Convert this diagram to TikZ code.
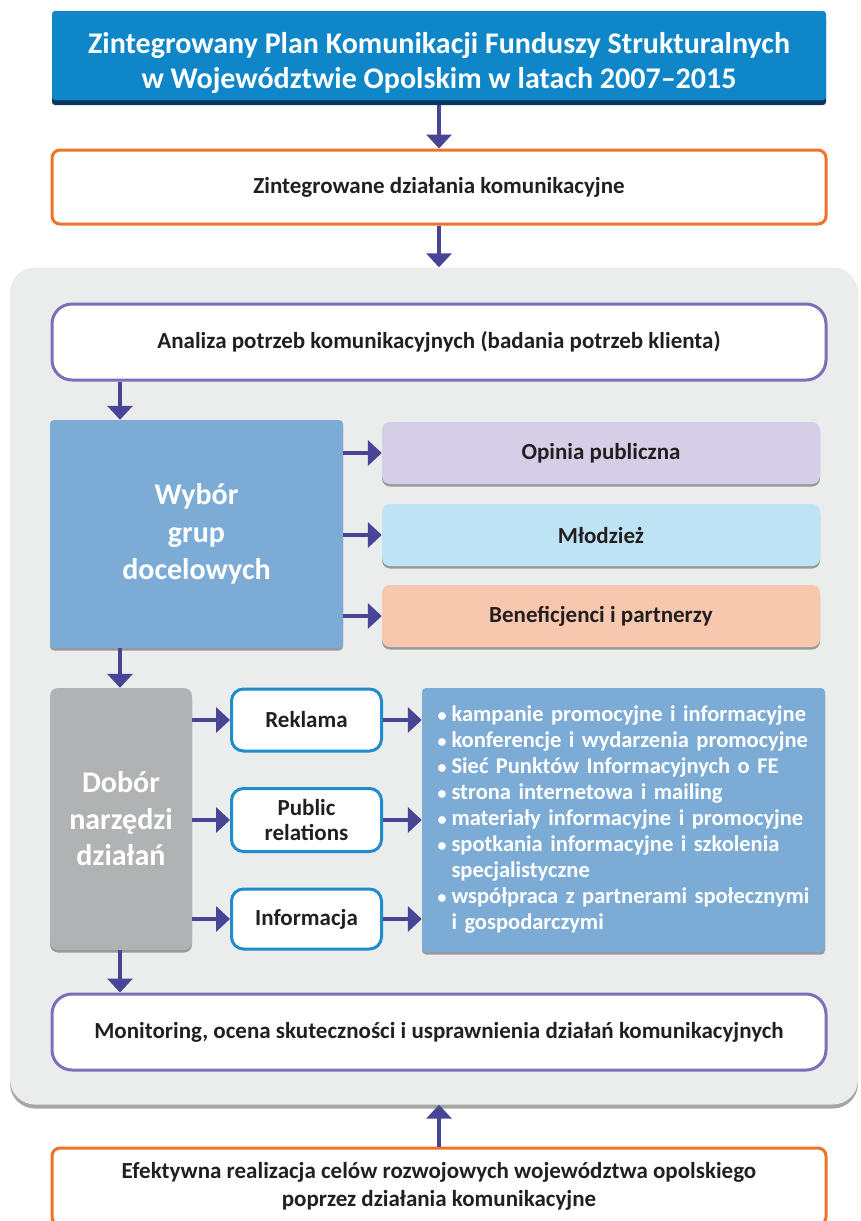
\documentclass[tikz,border=0pt]{standalone}
\usepackage{fontspec}
\setmainfont{Carlito}
\usepackage{tikz}
\usetikzlibrary{arrows.meta,positioning,shadows}
\definecolor{planblue}{RGB}{14,134,200}
\definecolor{planshadow}{RGB}{10,55,95}
\definecolor{flowblue}{RGB}{72,68,150}
\definecolor{orangeline}{RGB}{241,115,40}
\definecolor{purpleline}{RGB}{122,112,184}
\definecolor{panelgray}{RGB}{235,236,236}
\definecolor{groupblue}{RGB}{124,172,214}
\definecolor{lavender}{RGB}{212,207,230}
\definecolor{skyblue}{RGB}{189,227,245}
\definecolor{peach}{RGB}{247,199,174}
\definecolor{toolgray}{RGB}{177,178,180}
\definecolor{toolline}{RGB}{30,140,205}
\definecolor{textdark}{RGB}{35,31,32}
\newcommand{\itemdot}{\hspace*{4pt}\makebox[14pt][l]{\fontsize{18}{26}\selectfont•}}
\newcommand{\itemgap}{\hspace*{18pt}}

\begin{document}
\begin{tikzpicture}[
    x=1pt, y=-1pt,
    every node/.style={font=\bfseries\fontsize{23}{26}\selectfont, text=textdark, align=center, inner sep=0pt},
    softshadow/.style={drop shadow={shadow xshift=0pt, shadow yshift=-2.5pt, fill=black, opacity=0.35}},
    planbox/.style={fill=planblue, text=white, minimum width=774pt, minimum height=89pt,
        rounded corners=3pt, drop shadow={shadow xshift=0pt, shadow yshift=-5pt, fill=planshadow, opacity=1}},
    orangebox/.style={draw=orangeline, line width=3pt, fill=white, rounded corners=8pt, minimum width=774pt},
    purplebox/.style={draw=purpleline, line width=3pt, fill=white, rounded corners=20pt, minimum width=774pt, minimum height=76pt},
    panel/.style={fill=panelgray, rounded corners=25pt, minimum width=848pt, minimum height=837pt,
        drop shadow={shadow xshift=0pt, shadow yshift=-4pt, fill=black!35, opacity=1}},
    groupbox/.style={fill=groupblue, text=white, rounded corners=4pt, softshadow},
    targetbox/.style={rounded corners=8pt, minimum width=438pt, minimum height=62pt, softshadow},
    toolbox/.style={draw=toolline, line width=3pt, fill=white, rounded corners=12pt, minimum width=150pt},
    flow/.style={draw=flowblue, line width=4.5pt, -{Triangle[width=25pt,length=14pt]}, fill=flowblue}
]
\useasboundingbox (0,0) rectangle (860,1221);

% Top of the scheme
\node[planbox, font=\bfseries\fontsize{30}{35}\selectfont] (plan) at (439,55.5)
    {\rule{0pt}{35.5pt}Zintegrowany Plan Komunikacji Funduszy Strukturalnych\\w Województwie Opolskim w latach 2007–2015};
\node[orangebox, minimum height=74pt] (dzialania) at (439,187) {Zintegrowane działania komunikacyjne};

% Grey panel with the whole cycle
\node[panel] (panel) at (434,686) {};
\coordinate (lane) at (120,0);

\node[purplebox] (analiza) at (439,342) {Analiza potrzeb komunikacyjnych (badania potrzeb klienta)};

% Target groups
\node[groupbox, minimum width=293pt, minimum height=228pt, font=\bfseries\fontsize{30}{37.5}\selectfont] (wybor) at (196.5,534)
    {Wybór\\grup\\docelowych};
\node[targetbox, fill=lavender] (opinia) at (601,453) {Opinia publiczna};
\node[targetbox, fill=skyblue] (mlodziez) at (601,535) {Młodzież};
\node[targetbox, fill=peach] (beneficjenci) at (601,616) {Beneficjenci i partnerzy};

% Tools
\node[groupbox, fill=toolgray, rounded corners=8pt, minimum width=142pt, minimum height=262pt,
    font=\bfseries\fontsize{30}{36.5}\selectfont] (dobor) at (121,819) {Dobór\\narzędzi\\działań};
\node[toolbox, minimum height=62pt] (reklama) at (306.5,720) {Reklama};
\node[toolbox, minimum height=63pt, font=\bfseries\fontsize{23}{25}\selectfont] (pr) at (306.5,820) {Public\\relations};
\node[toolbox, minimum height=60pt] (informacja) at (306.5,919) {Informacja};
\node[groupbox, minimum width=403pt, minimum height=264pt, text width=380pt, align=left,
    font=\bfseries\fontsize{22.5}{26}\selectfont] (narzedzia) at (623.5,820)
    {\itemdot kampanie promocyjne i informacyjne\\
     \itemdot konferencje i wydarzenia promocyjne\\
     \itemdot Sieć Punktów Informacyjnych o FE\\
     \itemdot strona internetowa i mailing\\
     \itemdot materiały informacyjne i promocyjne\\
     \itemdot spotkania informacyjne i szkolenia\\
     \itemgap specjalistyczne\\
     \itemdot współpraca z partnerami społecznymi\\
     \itemgap i gospodarczymi};

\node[purplebox] (monitoring) at (439,1032) {Monitoring, ocena skuteczności i usprawnienia działań komunikacyjnych};

% Bottom box (cut by the page edge)
\node[orangebox, minimum height=77pt, font=\bfseries\fontsize{23}{28}\selectfont] (efekt) at (439,1186.5)
    {Efektywna realizacja celów rozwojowych województwa opolskiego\\poprzez działania komunikacyjne};

% Connectors
\draw[flow] ([yshift=-5pt]plan.south) -- (dzialania.north);
\draw[flow] (dzialania.south) -- (dzialania.south |- panel.north);
\draw[flow] (lane |- analiza.south) -- (lane |- wybor.north);
\draw[flow] (wybor.east |- opinia) -- (opinia.west);
\draw[flow] (wybor.east |- mlodziez) -- (mlodziez.west);
\draw[flow] (wybor.east |- beneficjenci) -- (beneficjenci.west);
\draw[flow] (lane |- wybor.south) -- (lane |- dobor.north);
\draw[flow] (dobor.east |- reklama) -- (reklama.west);
\draw[flow] (dobor.east |- pr) -- (pr.west);
\draw[flow] (dobor.east |- informacja) -- (informacja.west);
\draw[flow] (reklama.east) -- (reklama.east -| narzedzia.west);
\draw[flow] (pr.east) -- (pr.east -| narzedzia.west);
\draw[flow] (informacja.east) -- (informacja.east -| narzedzia.west);
\draw[flow] (lane |- dobor.south) -- (lane |- monitoring.north);
\draw[flow] (efekt.north) -- (efekt.north |- panel.south);
\end{tikzpicture}
\end{document}
